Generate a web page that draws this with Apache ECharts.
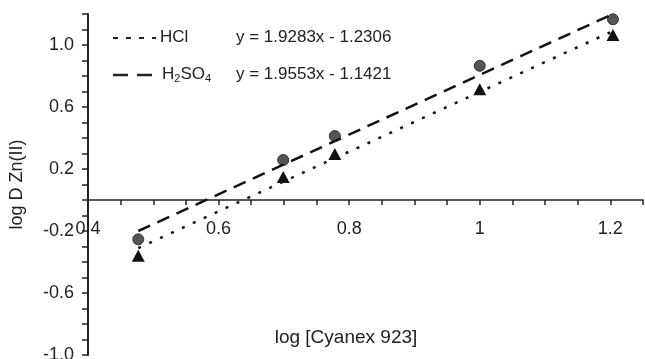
<!DOCTYPE html>
<html>
<head>
<meta charset="utf-8">
<script src="https://cdn.jsdelivr.net/npm/echarts@6/dist/echarts.min.js"></script>
<style>
  html, body { margin: 0; padding: 0; background: #fff; }
  #chart { width: 645px; height: 359px; }
</style>
</head>
<body>
<div id="chart"></div>
<script>
// log [Cyanex 923]
var logCyanex = [0.477, 0.699, 0.778, 1.0, 1.204];
// log D Zn(II)
var hclPoints = [-0.36, 0.148, 0.297, 0.714, 1.065];
var h2so4Points = [-0.254, 0.258, 0.413, 0.866, 1.166];
// fit line end points
var hclFitX = [0.477, 1.204];
var hclFitY = [-0.31, 1.09];
var h2so4FitX = [0.477, 1.204];
var h2so4FitY = [-0.20, 1.20];
var hclEquation = 'y = 1.9283x - 1.2306';
var h2so4Equation = 'y = 1.9553x - 1.1421';

function pairs(xs, ys) {
	var out = [];
	for (var i = 0; i < xs.length; i++) out.push([xs[i], ys[i]]);
	return out;
}

var font = '"Liberation Sans", Arial, sans-serif';
var textColor = '#222';
var myChart = echarts.init(document.getElementById('chart'));

// legend drawn by hand (line icons + names + equations)
var legendGraphic = [
	{ type: 'line', shape: { x1: 113, y1: 38, x2: 156, y2: 38 },
		style: { stroke: '#222', lineWidth: 2, lineDash: [5, 8] } },
	{ type: 'text', left: 160, top: 29,
		style: { text: 'HCl', font: '17px ' + font, fill: textColor } },
	{ type: 'text', left: 236, top: 29,
		style: { text: hclEquation, font: '17px ' + font, fill: textColor } },
	{ type: 'line', shape: { x1: 113, y1: 75, x2: 152, y2: 75 },
		style: { stroke: '#222', lineWidth: 2.5, lineDash: [15, 9] } },
	{ type: 'text', left: 162, top: 66,
		style: {
			text: '{n|H}{s|2}{n|SO}{s|4}',
			rich: {
				n: { fontSize: 17, fontFamily: font, fill: textColor },
				s: { fontSize: 11, fontFamily: font, fill: textColor, padding: [8, 0, 0, 0] }
			}
		} },
	{ type: 'text', left: 236, top: 66,
		style: { text: h2so4Equation, font: '17px ' + font, fill: textColor } }
];

var option = {
	animation: false,
	textStyle: { fontFamily: font },
	grid: { left: 88, right: 2, top: 14, bottom: 4, containLabel: false, outerBoundsMode: 'none' },
	graphic: legendGraphic,
	xAxis: {
		type: 'value',
		min: 0.4,
		max: 1.25,
		interval: 0.05,
		offset: -155,
		name: 'log [Cyanex 923]',
		nameLocation: 'middle',
		nameGap: 128,
		nameTextStyle: { fontSize: 19, color: textColor, padding: [0, 39, 0, 0] },
		axisLine: { onZero: false, lineStyle: { color: textColor, width: 1.5 } },
		axisTick: { length: 5, lineStyle: { color: textColor, width: 1.5 } },
		axisLabel: {
			interval: 0,
			margin: 20,
			fontSize: 18,
			color: textColor,
			formatter: function(v) {
				var r = Math.round(v * 100);
				if (r % 20 !== 0) return '';
				return String(Math.round(v * 10) / 10);
			}
		},
		splitLine: { show: false }
	},
	yAxis: {
		type: 'value',
		min: -1.0,
		max: 1.2,
		interval: 0.1,
		name: 'log D Zn(II)',
		nameLocation: 'middle',
		nameGap: 62,
		nameTextStyle: { fontSize: 18, color: textColor },
		axisLine: { lineStyle: { color: textColor, width: 2 } },
		axisTick: { length: 6, lineStyle: { color: textColor, width: 1.5 } },
		axisLabel: {
			interval: 0,
			margin: 14,
			fontSize: 18,
			color: textColor,
			formatter: function(v) {
				var r = Math.round((v + 1) * 10);
				if (r % 4 !== 0) return '';
				return v.toFixed(1);
			}
		},
		splitLine: { show: false }
	},
	series: [
		{
			name: 'HCl',
			type: 'line',
			data: pairs(hclFitX, hclFitY),
			symbol: 'none',
			lineStyle: { color: '#111', width: 2.5, type: [3, 9] }
		},
		{
			name: 'H2SO4',
			type: 'line',
			data: pairs(h2so4FitX, h2so4FitY),
			symbol: 'none',
			lineStyle: { color: '#111', width: 2.5, type: [13, 8] }
		},
		{
			name: 'HCl points',
			type: 'scatter',
			data: pairs(logCyanex, hclPoints),
			symbol: 'triangle',
			symbolSize: [13, 12],
			itemStyle: { color: '#111', opacity: 1 }
		},
		{
			name: 'H2SO4 points',
			type: 'scatter',
			data: pairs(logCyanex, h2so4Points),
			symbol: 'circle',
			symbolSize: 11,
			itemStyle: { color: '#555', borderColor: '#333', borderWidth: 1, opacity: 1 }
		}
	]
};

myChart.setOption(option);
</script>
</body>
</html>
